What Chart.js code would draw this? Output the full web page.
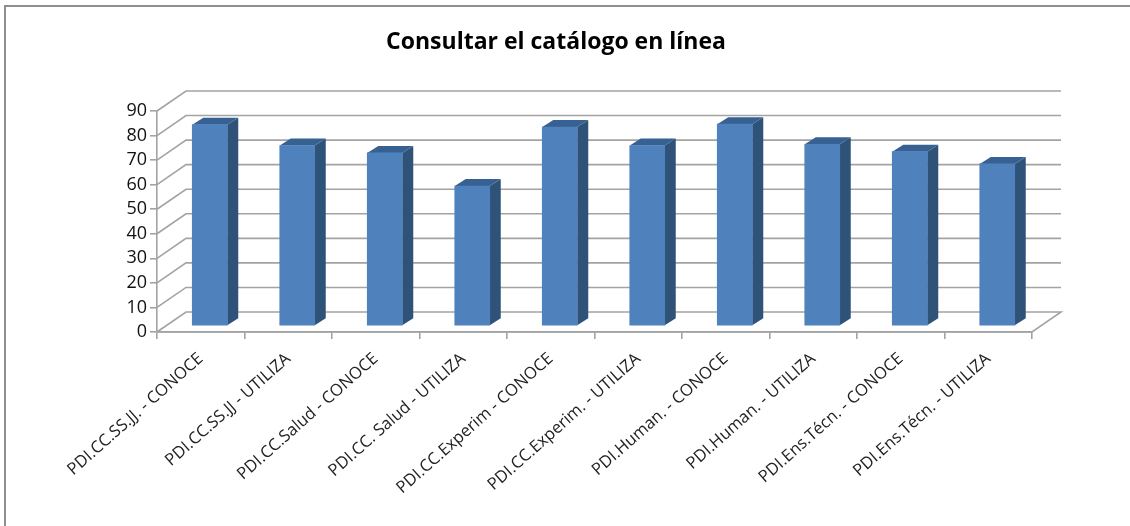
<!DOCTYPE html>
<html><head><meta charset="utf-8">
<style>html,body{margin:0;padding:0;background:#fff;overflow:hidden}#w{position:relative;width:1130px;height:526px}</style>
<script src="https://cdn.jsdelivr.net/npm/chart.js@4"></script>
</head><body><div id="w"><canvas id="c" width="1130" height="526"></canvas></div>
<script>
const categories = ["PDI.CC.SS.JJ. - CONOCE","PDI.CC.SS.JJ - UTILIZA","PDI.CC.Salud - CONOCE","PDI.CC. Salud - UTILIZA","PDI.CC.Experim - CONOCE","PDI.CC.Experim. - UTILIZA","PDI.Human. - CONOCE","PDI.Human. - UTILIZA","PDI.Ens.Técn. - CONOCE","PDI.Ens.Técn. - UTILIZA"];
const values = [82, 73.5, 70.5, 57, 81, 73.5, 82.2, 74, 71, 66];
const titleText = "Consultar el catálogo en línea";
const yMin = 0, yMax = 90, yStep = 10;

const wallDX = 29, wallDY = -20, barDX = 9, barDY = -6, sideDX = 11, sideDY = -7;
const gridColor = "#a3a3a3";

const walls = {
  id: "walls",
  beforeDatasetsDraw(chart) {
    const {ctx, chartArea: a, scales: {y}} = chart;
    ctx.save();
    ctx.strokeStyle = gridColor; ctx.lineWidth = 1.6;
    y.ticks.forEach(t => {
      const py = y.getPixelForValue(t.value);
      ctx.beginPath();
      ctx.moveTo(a.left, py);
      ctx.lineTo(a.left + wallDX, py + wallDY);
      ctx.lineTo(a.right + wallDX, py + wallDY);
      if (t.value === 0) {
        ctx.lineTo(a.right, py);
        ctx.lineTo(a.left, py);
      }
      ctx.stroke();
    });
    ctx.restore();
  },
  beforeDatasetDraw(chart) {
    const {ctx} = chart;
    const bars = chart.getDatasetMeta(0).data;
    ctx.save();
    ctx.translate(barDX, barDY);
    bars.forEach(b => {
      const {x, y, width, base} = b.getProps(["x","y","width","base"], true);
      const r = x + width / 2, l = x - width / 2;
      ctx.fillStyle = "#2f5279";
      ctx.beginPath();
      ctx.moveTo(r, y); ctx.lineTo(r + sideDX, y + sideDY);
      ctx.lineTo(r + sideDX, base + sideDY); ctx.lineTo(r, base);
      ctx.closePath(); ctx.fill();
      ctx.fillStyle = "#386193";
      ctx.beginPath();
      ctx.moveTo(l, y); ctx.lineTo(l + sideDX, y + sideDY);
      ctx.lineTo(r + sideDX, y + sideDY); ctx.lineTo(r, y);
      ctx.closePath(); ctx.fill();
    });
  },
  afterDatasetDraw(chart) { chart.ctx.restore(); },
  afterDraw(chart) {
    const {ctx, width, height} = chart;
    ctx.save();
    ctx.strokeStyle = "#8f8f8f"; ctx.lineWidth = 2;
    ctx.beginPath();
    ctx.moveTo(5, height); ctx.lineTo(5, 6); ctx.lineTo(width, 6);
    ctx.stroke();
    ctx.restore();
  }
};

new Chart(document.getElementById("c"), {
  type: "bar",
  data: { labels: categories, datasets: [{ data: values, backgroundColor: "#4f81bd", borderWidth: 0, barThickness: 35, clip: false }] },
  plugins: [walls],
  options: {
    responsive: false, animation: false, events: [],
    layout: { padding: { left: 80, right: 98, top: 16, bottom: 0 } },
    plugins: {
      legend: { display: false }, tooltip: { enabled: false },
      title: { display: true, text: titleText, color: "#000", font: { family: "Open Sans", size: 23, weight: "bold" }, padding: { top: 13, bottom: 54.4 } }
    },
    scales: {
      x: {
        grid: { drawOnChartArea: false, offset: true, color: gridColor, lineWidth: 1.6, tickLength: 7 },
        border: { color: gridColor, width: 1.6 },
        ticks: { autoSkip: false, minRotation: 41.5, maxRotation: 41.5, color: "#222", font: { family: "Open Sans", size: 16.6 }, padding: 10 },
        afterFit(s) { s.height = 194; s.paddingLeft = 0; s.paddingRight = 0; }
      },
      y: {
        min: yMin, max: yMax,
        grid: { drawOnChartArea: false, color: gridColor, lineWidth: 1.6, tickLength: 7 },
        border: { color: gridColor, width: 1.6 },
        ticks: { autoSkip: false, stepSize: yStep, color: "#111", font: { family: "Open Sans", size: 18 }, padding: 3 },
        afterFit(s) { s.width = 77; }
      }
    }
  }
});
</script></body></html>
